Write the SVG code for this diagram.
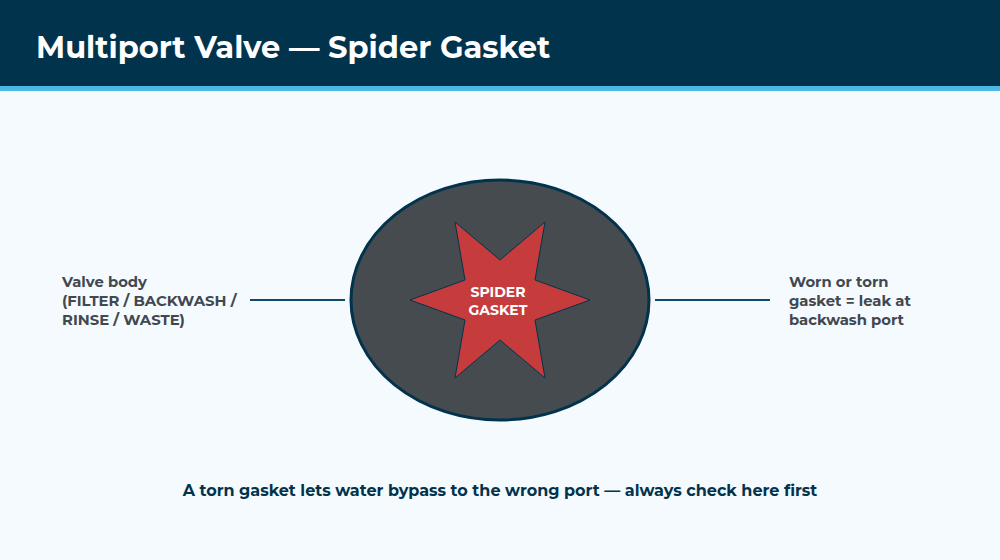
<svg xmlns="http://www.w3.org/2000/svg" width="1000" height="560" viewBox="0 0 1000 560">
<style>
.t{font-family:"Montserrat","Inter","Open Sans","DejaVu Sans",sans-serif;font-weight:700}
.lbl{font-size:14.8px;fill:#414850}
.conn{stroke:#0d4a6e;stroke-width:2;fill:none}
</style>
<rect width="1000" height="560" fill="#f5fafe"/>
<rect width="1000" height="86" fill="#02334c"/>
<rect y="86" width="1000" height="5" fill="#4db8e6"/>
<text class="t" x="36" y="58" font-size="30.5" fill="#ffffff">Multiport Valve — Spider Gasket</text>
<g id="connectors">
<line class="conn" x1="250" y1="300" x2="345" y2="300"/>
<line class="conn" x1="655" y1="300" x2="770" y2="300"/>
</g>
<g id="valve-body">
<ellipse cx="500" cy="300" rx="149" ry="120" fill="#464b50" stroke="#02334c" stroke-width="3"/>
</g>
<g id="spider-gasket">
<polygon points="590,300 535,320 545,378 500,340 455,378 465,320 410,300 465,280 455,222 500,260 545,222 535,280" fill="#c63c3c" stroke="#02334c" stroke-width="1"/>
<text class="t" x="498" y="297" font-size="14" fill="#ffffff" text-anchor="middle">SPIDER</text>
<text class="t" x="498" y="315" font-size="14" fill="#ffffff" text-anchor="middle">GASKET</text>
</g>
<g id="label-left">
<text class="t lbl" x="62" y="287">Valve body</text>
<text class="t lbl" x="62" y="306">(FILTER / BACKWASH /</text>
<text class="t lbl" x="62" y="325">RINSE / WASTE)</text>
</g>
<g id="label-right">
<text class="t lbl" x="789" y="287">Worn or torn</text>
<text class="t lbl" x="789" y="306">gasket = leak at</text>
<text class="t lbl" x="789" y="325">backwash port</text>
</g>
<text class="t" x="500" y="496" font-size="16" fill="#02334c" text-anchor="middle">A torn gasket lets water bypass to the wrong port — always check here first</text>
</svg>
